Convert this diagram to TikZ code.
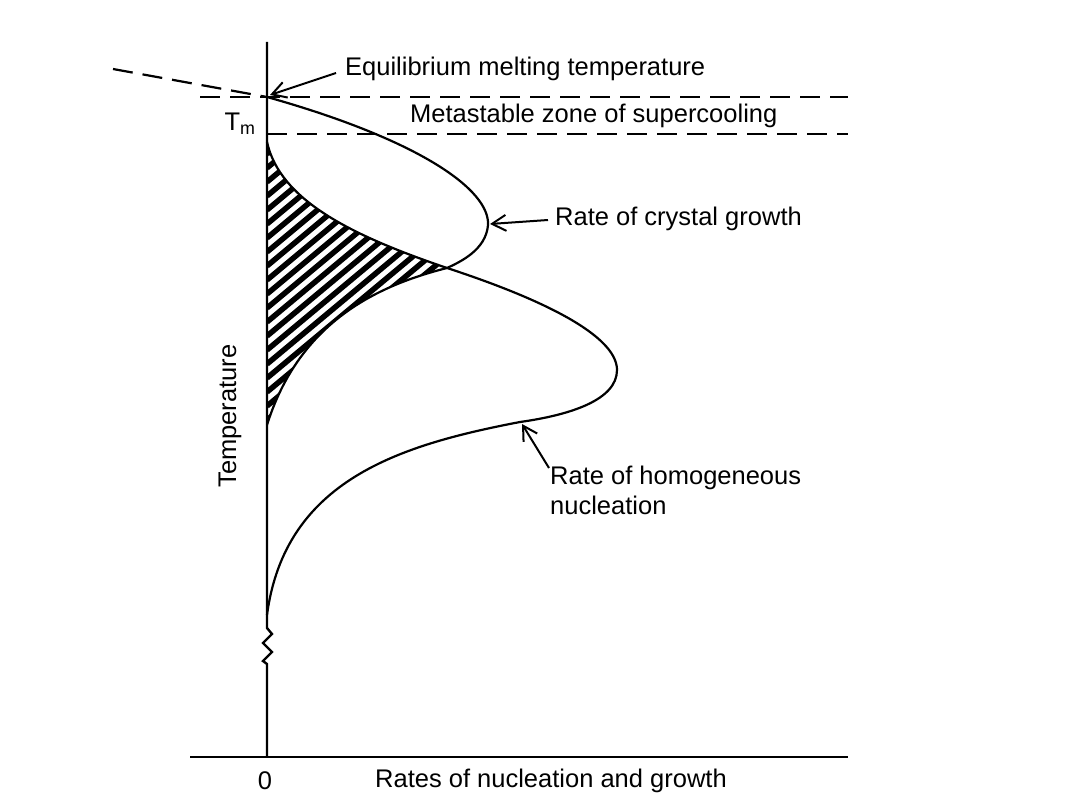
\documentclass[tikz,border=0pt]{standalone}
\usepackage{fontspec}
\setmainfont{Liberation Sans}
\usetikzlibrary{arrows.meta}
\begin{document}
\begin{tikzpicture}[x=1pt,y=-1pt,
  fnt/.style={font=\fontsize{25.5}{30}\selectfont},
  lbl/.style={anchor=west,inner sep=0pt,fnt},
  dsh/.style={line width=2.2pt,dash pattern=on 20pt off 10pt},
  crv/.style={line width=2.2pt},
  arr/.style={line width=2pt,-{Straight Barb[length=14pt,width=16pt,line width=2pt]}}]
\useasboundingbox (0,0) rectangle (1089,802);
% hatch
\begin{scope}
\clip (267,142) .. controls (280,200) and (350,235) .. (447,268)
      .. controls (380,285) and (300,320) .. (267,425) -- cycle;
\foreach \y in {140,154,...,720} \draw[line width=5.5pt] (267,\y) -- ++(240,-200);
\end{scope}
% axes
\coordinate (top) at (267,42);
\coordinate (o) at (267,757);
\coordinate (bk1) at (267,628);
\coordinate (bk2) at (267,664);
\draw[line width=2.4pt] (top) -- (bk1) -- ++(5,6) -- ++(-9,9) -- ++(9,9) -- ++(-9,9) -- (bk2) -- (o);
\draw[line width=2.4pt] (190,757) coordinate (xl) -- (848,757) coordinate (xr);
% dashed
\draw[dsh] (200,97) -- (848,97);
\draw[dsh] (267,134) -- (848,134);
\draw[dsh] (113,69) -- (267,97);
% curves
\draw[crv] (267,97) .. controls (420,140) and (490,190) .. (488,225)
   .. controls (486,250) and (460,262) .. (447,268)
   .. controls (380,285) and (300,320) .. (267,425);
\draw[crv] (267,142) .. controls (280,200) and (350,235) .. (447,268)
   .. controls (560,305) and (617,340) .. (617,370)
   .. controls (617,400) and (570,415) .. (520,422)
   .. controls (400,445) and (285,480) .. (267,615);
% labels
\node[lbl] (eq) at (345,69) {Equilibrium melting temperature};
\node[lbl] (ms) at (410,116) {Metastable zone of supercooling};
\node[lbl] (cg) at (555,219) {Rate of crystal growth};
\node[lbl,align=left] (hn) at (550,490) {Rate of homogeneous\\nucleation};
\node[inner sep=0pt,fnt] (tm) at (240,124) {T\textsubscript{m}};
\node[inner sep=0pt,rotate=90,fnt] (tl) at (230,416) {Temperature};
\node[inner sep=0pt,fnt] (zero) at (265,781) {0};
\node[lbl] (xlab) at (375,781) {Rates of nucleation and growth};
% arrows
\coordinate (a1) at (270,95);
\coordinate (a2) at (490,224);
\coordinate (a3) at (522,424);
\coordinate (s1) at (336,73);
\coordinate (s2) at (548,220);
\coordinate (s3) at (549,468);
\draw[arr] (s1) -- (a1);
\draw[arr] (s2) -- (a2);
\draw[arr] (s3) -- (a3);
\end{tikzpicture}
\end{document}
